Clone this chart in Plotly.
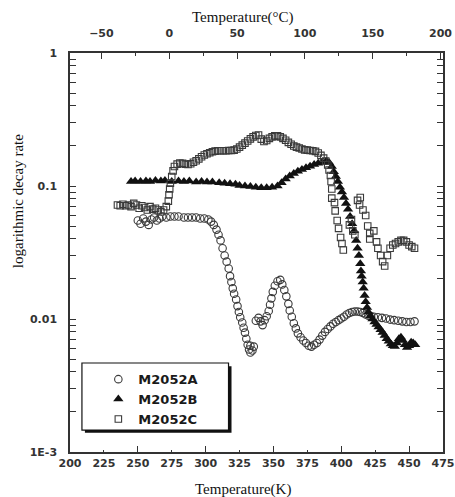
import plotly.graph_objects as go

# ---------------- data ----------------
a_temp = [250, 252, 254, 256, 258, 260, 262, 264, 266, 268, 271, 274, 277, 280, 284, 287, 290, 293, 296, 299,
          302, 304, 306, 308, 309.5, 311, 312.5, 314, 315.5, 317, 318, 319, 320, 321, 322.5, 323.5, 324.5, 325.5,
          327, 328, 329, 330, 331, 332, 333, 334.5, 333, 335.5,
          337, 339, 340.5, 342, 343.5, 345, 346.5, 347.5, 348.5, 349.5, 351, 353, 355, 356.5, 358, 359.5, 361, 362,
          363.5, 365, 366.5, 368, 370, 372, 374, 376, 378, 380, 382, 384, 386, 388, 390, 392, 394, 396, 398, 400,
          402, 404, 406, 408, 410, 412, 414, 416, 418, 420, 422, 424, 427, 430, 433, 436, 439, 442, 445, 448, 451, 454]
a_rate = [0.055, 0.052, 0.057, 0.054, 0.051, 0.056, 0.058, 0.055, 0.057, 0.059, 0.058, 0.059, 0.059, 0.059, 0.058,
          0.058, 0.058, 0.058, 0.057, 0.057, 0.056, 0.054, 0.051, 0.047, 0.043, 0.039, 0.034, 0.030, 0.027, 0.024,
          0.021, 0.019, 0.017, 0.0155, 0.014, 0.0125, 0.0113, 0.0103, 0.0094, 0.0086, 0.0079, 0.0071, 0.0064,
          0.0059, 0.0056, 0.0058, 0.0063, 0.0062,
          0.0097, 0.0102, 0.0096, 0.0090, 0.0098, 0.0105, 0.0115, 0.0128, 0.0143, 0.016, 0.0178, 0.0192, 0.0197,
          0.0182, 0.0165, 0.0148, 0.013, 0.0116, 0.0104, 0.0093, 0.0085, 0.0078, 0.0073, 0.0069, 0.0066, 0.0063,
          0.0062, 0.0064, 0.0066, 0.0070, 0.0075, 0.0080, 0.0084, 0.0088, 0.0092, 0.0095, 0.0098, 0.0101, 0.0104,
          0.0108, 0.0111, 0.0113, 0.0114, 0.0114, 0.0113, 0.0111, 0.0108, 0.0106, 0.0105, 0.0104, 0.0103, 0.0102,
          0.0101, 0.0099, 0.0098, 0.0097, 0.0096, 0.0095, 0.0095, 0.0096]

b_temp = [245, 248, 252, 256, 259, 263, 267, 270, 275, 280, 284, 288, 293, 297, 301, 305, 310, 314, 318, 322,
          325, 329, 333, 337, 341, 345, 349, 353, 356, 359, 362, 365, 368, 371, 374, 377, 380, 383, 386, 389,
          391, 393, 394.5, 396, 397.5, 399, 400.5, 402, 403.5, 405, 406.5, 408, 409.5, 411, 412, 413, 414, 414.5,
          415, 415.8, 416.5, 417.2, 418, 419, 420, 421.5, 423, 424.5, 426, 427.5, 429, 430.5, 432, 433.5, 435,
          436.5, 438, 439.5, 441, 442.5, 444, 445.5, 447, 448.5, 450, 451.5, 453, 454.5]
b_rate = [0.108, 0.109, 0.108, 0.109, 0.108, 0.110, 0.109, 0.110, 0.108, 0.109, 0.108, 0.109, 0.107, 0.108,
          0.107, 0.107, 0.106, 0.105, 0.104, 0.103, 0.101, 0.100, 0.099, 0.098, 0.097, 0.097, 0.098, 0.100,
          0.106, 0.113, 0.119, 0.124, 0.129, 0.133, 0.137, 0.141, 0.145, 0.148, 0.151, 0.154,
          0.150, 0.140, 0.128, 0.118, 0.108, 0.098, 0.090, 0.082, 0.074, 0.067, 0.059, 0.052, 0.046, 0.039, 0.034,
          0.030, 0.026, 0.023, 0.021, 0.019, 0.017, 0.015, 0.0135, 0.0122, 0.0113, 0.0106, 0.0100, 0.0095, 0.0091,
          0.0087, 0.0083, 0.0079, 0.0075, 0.0071, 0.0068, 0.0065, 0.0063, 0.0062, 0.0066, 0.0071, 0.0073, 0.0069,
          0.0064, 0.0061, 0.0063, 0.0067, 0.0066, 0.0064]

c_temp = [235, 237, 239, 241, 243, 245, 247, 249, 251, 253, 255, 257, 259, 261, 263, 265, 267, 269, 271, 272.5,
          273, 273.5, 274, 275, 276, 277, 279, 281, 283, 285, 287, 289, 291, 293, 295, 297, 299, 301, 303, 305,
          307, 309, 311, 313, 315, 317, 319, 321, 323, 325, 327, 329, 331, 333, 335, 337, 339, 341, 343, 345, 347,
          349, 351, 353, 355, 357, 359, 361, 363, 365, 367, 369, 371, 373, 375, 377, 379, 381, 383, 385, 387,
          388.5, 390, 391, 392, 392.5, 393, 393, 395, 395.5, 397, 398, 399.5, 400.5, 401.5, 406, 407.5, 408.5,
          410, 412, 414, 413.5, 416, 418, 419.5, 421, 421, 424, 426, 427, 429, 430.5, 432, 434, 436, 438, 440,
          442, 444, 446, 448, 450, 452, 454]
c_rate = [0.072, 0.071, 0.073, 0.071, 0.072, 0.070, 0.074, 0.072, 0.068, 0.071, 0.069, 0.066, 0.070, 0.067,
          0.068, 0.066, 0.064, 0.066, 0.070, 0.077, 0.086, 0.095, 0.105, 0.118, 0.130, 0.140, 0.146, 0.149,
          0.148, 0.146, 0.145, 0.147, 0.151, 0.155, 0.160, 0.166, 0.171, 0.175, 0.178, 0.181, 0.183, 0.184,
          0.184, 0.184, 0.184, 0.185, 0.185, 0.186, 0.190, 0.196, 0.203, 0.210, 0.218, 0.226, 0.234, 0.240,
          0.242, 0.225, 0.216, 0.220, 0.228, 0.234, 0.238, 0.238, 0.234, 0.228, 0.221, 0.213, 0.206, 0.200,
          0.196, 0.193, 0.190, 0.187, 0.186, 0.185, 0.184, 0.182, 0.177, 0.170, 0.162, 0.154, 0.144, 0.132,
          0.120, 0.108, 0.095, 0.081, 0.075, 0.065, 0.055, 0.048, 0.041, 0.037, 0.033, 0.051, 0.056, 0.046,
          0.043, 0.078, 0.082, 0.072, 0.066, 0.060, 0.050, 0.040, 0.044, 0.046, 0.038, 0.034, 0.030, 0.027,
          0.025, 0.030, 0.034, 0.036, 0.037, 0.038, 0.039, 0.039, 0.038, 0.036, 0.035, 0.034]

series_names = ["M2052A", "M2052B", "M2052C"]

k_ticks = list(range(200, 476, 25))
k_major = list(range(250, 451, 50))
c_ticks = [-50, 0, 50, 100, 150, 200]
c_minor = [-25, 25, 75, 125, 175]
y_ticks = [0.001, 0.01, 0.1, 1]
y_ticktext = ["1E-3", "0.01", "0.1", "1"]
y_minor = [m * d for d in (0.001, 0.01, 0.1) for m in range(2, 10)]

K0 = 273.15
x_range = [200, 475]

AX = "#333333"
tick_font = dict(family="DejaVu Sans", size=11, color="#333333", weight="bold")
title_font = dict(family="Liberation Serif", size=15, color="#111111")

fig = go.Figure()
fig.add_trace(go.Scatter(x=a_temp, y=a_rate, mode="markers", name=series_names[0],
                         marker=dict(symbol="circle-open", size=7.5, color="#3a3a3a", line=dict(width=1.1))))
fig.add_trace(go.Scatter(x=b_temp, y=b_rate, mode="markers", name=series_names[1],
                         marker=dict(symbol="triangle-up", size=9, color="#111111")))
fig.add_trace(go.Scatter(x=c_temp, y=c_rate, mode="markers", name=series_names[2],
                         marker=dict(symbol="square-open", size=6.5, color="#3a3a3a", line=dict(width=1.1))))
# helper traces so the extra tick axes are drawn
fig.add_trace(go.Scatter(x=[c_ticks[1]], y=[y_ticks[2]], xaxis="x2", mode="markers",
                         marker=dict(opacity=0), showlegend=False, hoverinfo="skip"))
fig.add_trace(go.Scatter(x=[k_major[1]], y=[y_ticks[2]], xaxis="x3", mode="markers",
                         marker=dict(opacity=0), showlegend=False, hoverinfo="skip"))

fig.update_layout(
    width=455, height=497,
    margin=dict(l=70, r=12, t=53, b=45, autoexpand=False),
    paper_bgcolor="white", plot_bgcolor="white",
    showlegend=True,
    legend=dict(x=0.076, y=0.220, xanchor="left", yanchor="top",
                bgcolor="rgba(0,0,0,0)", borderwidth=0,
                font=dict(family="DejaVu Sans", size=13, color="#1a1a1a", weight="bold"),
                itemsizing="trace", tracegroupgap=0),
    xaxis=dict(range=x_range, tickmode="array", tickvals=k_ticks, ticktext=[str(t) for t in k_ticks],
               ticks="inside", ticklen=2, tickwidth=1.3, tickcolor=AX, automargin=False,
               ticklabeloverflow="allow",
               showline=True, linecolor=AX, linewidth=1.5, mirror=True,
               showgrid=False, zeroline=False, tickfont=tick_font),
    xaxis2=dict(overlaying="x", side="top", anchor="y", automargin=False,
                range=[x_range[0] - K0, x_range[1] - K0], tickmode="array", tickvals=c_ticks,
                ticktext=["\u221250", "0", "50", "100", "150", "200"],
                ticks="inside", ticklen=6, tickwidth=1.3, tickcolor=AX,
                ticklabeloverflow="allow",
                minor=dict(tickmode="array", tickvals=c_minor, ticks="inside", ticklen=3,
                           tickwidth=1.2, tickcolor=AX),
                showline=False, showgrid=False, zeroline=False, tickfont=tick_font,
                ticklabelstandoff=13),
    xaxis3=dict(overlaying="x", side="bottom", anchor="y", range=x_range, automargin=False,
                tickmode="array", tickvals=k_major, ticks="inside", ticklen=6, tickwidth=1.3,
                tickcolor=AX, showticklabels=False, showline=False, showgrid=False, zeroline=False),
    yaxis=dict(type="log", range=[-3, 0], tickmode="array", tickvals=y_ticks, ticktext=y_ticktext,
               ticks="inside", ticklen=6, tickwidth=1.3, tickcolor=AX, automargin=False,
               ticklabeloverflow="allow",
               minor=dict(tickmode="array", tickvals=y_minor, ticks="inside", ticklen=3,
                          tickwidth=1.2, tickcolor=AX),
               showline=True, linecolor=AX, linewidth=1.5, mirror="allticks",
               showgrid=False, zeroline=False, tickfont=tick_font, ticklabelstandoff=9),
    annotations=[
        dict(text="Temperature(\u00b0C)", xref="paper", yref="paper", x=0.465, y=1.090,
             showarrow=False, font=title_font, xanchor="center", yanchor="middle"),
        dict(text="Temperature(K)", xref="paper", yref="paper", x=0.465, y=-0.095,
             showarrow=False, font=title_font, xanchor="center", yanchor="middle"),
        dict(text="logarithmic decay rate", xref="paper", yref="paper", x=-0.139, y=0.629,
             showarrow=False, font=title_font, textangle=-90, xanchor="center", yanchor="middle"),
    ],
    shapes=[
        # legend shadow and frame
        dict(type="rect", xref="paper", yref="paper", x0=0.040, x1=0.433, y0=0.048, y1=0.215,
             fillcolor="#111111", line=dict(width=0), layer="above"),
        dict(type="rect", xref="paper", yref="paper", x0=0.032, x1=0.425, y0=0.055, y1=0.223,
             fillcolor="white", line=dict(color="#111111", width=1.2), layer="above"),
    ],
)

fig.write_html("out.html")
